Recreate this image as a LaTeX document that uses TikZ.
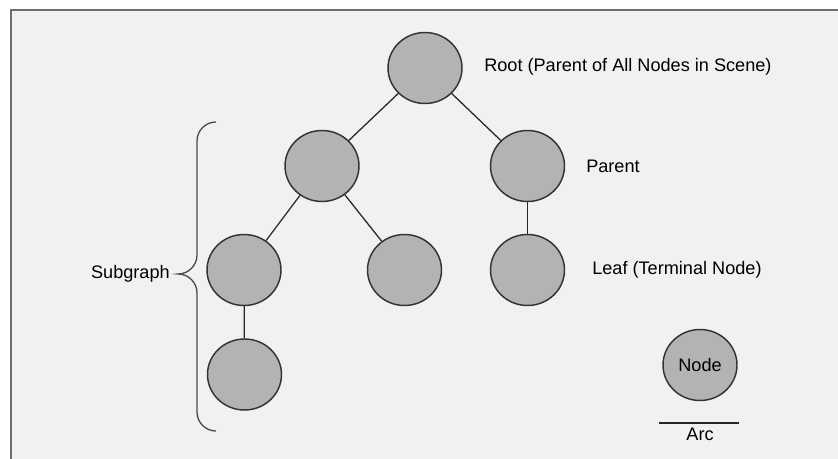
\documentclass[tikz,border=0pt]{standalone}
\usepackage{fontspec}
\setmainfont{Liberation Sans}
\usetikzlibrary{shapes.geometric}
\definecolor{bg}{HTML}{F1F1F1}
\definecolor{nodefill}{HTML}{B3B3B3}
\definecolor{nodeline}{HTML}{333333}
\definecolor{framegray}{HTML}{6E6E6E}
\begin{document}
\begin{tikzpicture}[x=0.75pt,y=-0.75pt,
  scenenode/.style={ellipse, draw=nodeline, fill=nodefill, line width=1.1pt,
    minimum width=55.5pt, minimum height=53.25pt, inner sep=0pt},
  graphedge/.style={draw=black!85, line width=0.95pt},
  txt/.style={font=\fontsize{13.6}{16}\selectfont, text=black, inner sep=0pt},
  bracestyle/.style={draw=black!70, line width=1pt}]
\useasboundingbox (0,0) rectangle (838,459);
\fill[white] (0,0) rectangle (838,459);
\fill[bg] (11,10) rectangle (838,459);
\draw[framegray, line width=1.5pt] (11,459) -- (11,10) -- (838,10);

% scene graph nodes
\node[scenenode] (root) at (425,68) {};
\node[scenenode] (pl) at (322,166) {};
\node[scenenode] (pr) at (527.5,166) {};
\node[scenenode] (a) at (244,270) {};
\node[scenenode] (b) at (404.5,270) {};
\node[scenenode] (leaf) at (527.5,270) {};
\node[scenenode] (c) at (244.5,374.5) {};

% arcs
\draw[graphedge] (root) -- (pl);
\draw[graphedge] (root) -- (pr);
\draw[graphedge] (pl) -- (a);
\draw[graphedge] (pl) -- (b);
\draw[graphedge] (pr) -- (leaf);
\draw[graphedge] (a) -- (c);

% labels
\node[txt, anchor=west] (lroot) at (484,67) {Root (Parent of All Nodes in Scene)};
\node[txt, anchor=west] (lparent) at (586,166) {Parent};
\node[txt, anchor=west] (lleaf) at (592,270) {Leaf (Terminal Node)};

% subgraph brace
\draw[bracestyle] (216,122) arc[start angle=90, end angle=180, x radius=19, y radius=-19]
  -- (197,255) arc[start angle=0, end angle=-90, x radius=19, y radius=-19]
  arc[start angle=90, end angle=0, x radius=19, y radius=-19]
  -- (197,412) arc[start angle=180, end angle=270, x radius=19, y radius=-19];
\node[txt, anchor=east] (lsub) at (170,274) {Subgraph};

% legend
\node[scenenode, txt] (legend) at (700,365) {Node};
\coordinate (arcl) at (659,423);
\coordinate (arcr) at (739,423);
\draw[graphedge] (arcl) -- (arcr);
\node[txt, anchor=north] (larc) at (700,428) {Arc};
\end{tikzpicture}
\end{document}
